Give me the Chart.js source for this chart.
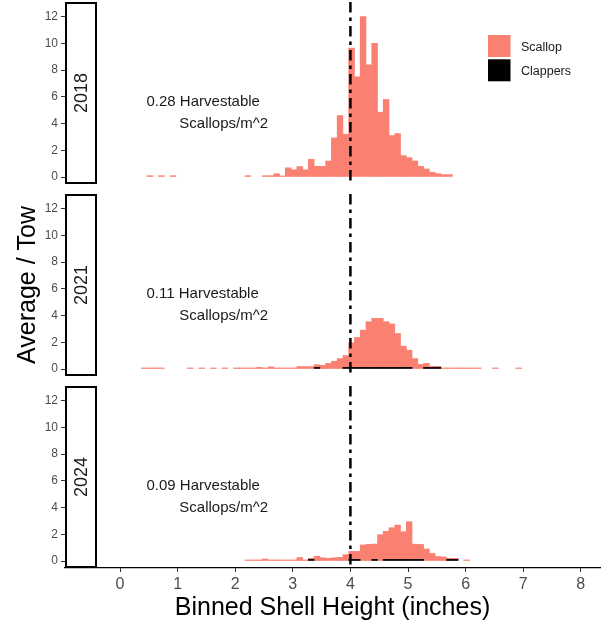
<!DOCTYPE html>
<html>
<head>
<meta charset="utf-8">
<script src="https://cdn.jsdelivr.net/npm/chart.js@4.4.0/dist/chart.umd.min.js"></script>
<style>
  html, body { margin: 0; padding: 0; background: #fff; }
  #wrap { position: relative; width: 602px; height: 627px; overflow: hidden; }
  canvas { position: absolute; left: 0; }
</style>
</head>
<body>
<div id="wrap">
  <canvas id="panel2018" width="602" height="190" style="top:0px"></canvas>
  <canvas id="panel2021" width="602" height="198" style="top:186px"></canvas>
  <canvas id="panel2024" width="602" height="249" style="top:378px"></canvas>
</div>
<script>
// shell height bins (inches, bin centres)
const binCenters = [
    0.02, 0.12, 0.22, 0.32, 0.42, 0.52, 0.62, 0.72, 0.82, 0.92,
    1.02, 1.12, 1.22, 1.32, 1.42, 1.52, 1.62, 1.72, 1.82, 1.92,
    2.02, 2.12, 2.22, 2.32, 2.42, 2.52, 2.62, 2.72, 2.82, 2.92,
    3.02, 3.12, 3.22, 3.32, 3.42, 3.52, 3.62, 3.72, 3.82, 3.92,
    4.02, 4.12, 4.22, 4.32, 4.42, 4.52, 4.62, 4.72, 4.82, 4.92,
    5.02, 5.12, 5.22, 5.32, 5.42, 5.52, 5.62, 5.72, 5.82, 5.92,
    6.02, 6.12, 6.22, 6.32, 6.42, 6.52, 6.62, 6.72, 6.82, 6.92
];

const years = ['2018', '2021', '2024'];
const harvestable = ['0.28', '0.11', '0.09'];
const seriesNames = ['Scallop', 'Clappers'];

const scallop2018 = [
    0, 0, 0, 0, 0, 0.1, 0, 0.1, 0, 0.1,
    0, 0, 0, 0, 0, 0, 0, 0, 0, 0,
    0, 0, 0.1, 0, 0, 0.1, 0.1, 0.24, 0.08, 0.69,
    0.54, 0.78, 0.54, 1.32, 0.8, 0.8, 1.2, 2.93, 4.6, 3.2,
    9.65, 7.5, 12.0, 8.4, 10.0, 4.85, 5.8, 3.1, 3.25, 1.6,
    1.45, 1.2, 0.8, 0.6, 0.35, 0.25, 0.18, 0.18, 0, 0,
    0, 0, 0, 0, 0, 0, 0, 0, 0, 0
];
const clappers2018 = [
    0, 0, 0, 0, 0, 0, 0, 0, 0, 0,
    0, 0, 0, 0, 0, 0, 0, 0, 0, 0,
    0, 0, 0, 0, 0, 0, 0, 0, 0, 0,
    0, 0, 0, 0, 0, 0, 0, 0, 0, 0,
    0, 0, 0, 0, 0, 0, 0, 0, 0, 0,
    0, 0, 0, 0, 0, 0, 0, 0, 0, 0,
    0, 0, 0, 0, 0, 0, 0, 0, 0, 0
];

const scallop2021 = [
    0, 0, 0, 0, 0.08, 0.08, 0.08, 0.08, 0, 0,
    0, 0, 0.08, 0, 0.08, 0, 0.08, 0, 0.08, 0,
    0.08, 0.08, 0.08, 0.08, 0.12, 0.08, 0.16, 0.08, 0.08, 0.08,
    0.08, 0.18, 0.18, 0.18, 0.2, 0.27, 0.42, 0.58, 0.78, 0.88,
    1.84, 2.24, 2.79, 3.42, 3.67, 3.67, 3.42, 3.25, 2.54, 1.59,
    1.29, 0.78, 0.35, 0.3, 0.08, 0.08, 0.08, 0.08, 0.08, 0.08,
    0.08, 0.08, 0.08, 0, 0, 0.08, 0, 0, 0, 0.08
];
const clappers2021 = [
    0, 0, 0, 0, 0, 0, 0, 0, 0, 0,
    0, 0, 0, 0, 0, 0, 0, 0, 0, 0,
    0, 0, 0, 0, 0, 0, 0, 0, 0, 0,
    0, 0, 0, 0, 0.12, 0, 0, 0, 0, 0.12,
    0.12, 0.12, 0.12, 0.12, 0.12, 0.12, 0.12, 0.12, 0.12, 0.12,
    0.12, 0, 0, 0.12, 0.12, 0.12, 0, 0, 0, 0,
    0, 0, 0, 0, 0, 0, 0, 0, 0, 0
];

const scallop2024 = [
    0, 0, 0, 0, 0, 0, 0, 0, 0, 0,
    0, 0, 0, 0, 0, 0, 0, 0, 0, 0,
    0, 0, 0.08, 0.08, 0.08, 0.15, 0.08, 0.08, 0.08, 0.08,
    0.08, 0.26, 0.08, 0.08, 0.36, 0.24, 0.2, 0.24, 0.27, 0.48,
    0.6, 0.6, 1.2, 1.25, 1.15, 1.97, 2.1, 2.37, 2.57, 2.07,
    2.82, 1.14, 1.12, 0.9, 0.57, 0.34, 0.3, 0.08, 0.08, 0,
    0.08, 0, 0, 0, 0, 0, 0, 0, 0, 0
];
const clappers2024 = [
    0, 0, 0, 0, 0, 0, 0, 0, 0, 0,
    0, 0, 0, 0, 0, 0, 0, 0, 0, 0,
    0, 0, 0, 0, 0, 0, 0, 0, 0, 0,
    0, 0, 0, 0.12, 0, 0, 0, 0, 0, 0,
    0.12, 0.12, 0, 0, 0.12, 0, 0.12, 0.12, 0.12, 0.12,
    0.12, 0.12, 0.12, 0, 0, 0, 0, 0.12, 0.12, 0,
    0, 0, 0, 0, 0, 0, 0, 0, 0, 0
];

const xTicks = [0, 1, 2, 3, 4, 5, 6, 7, 8];
const yTicks = [0, 2, 4, 6, 8, 10, 12];
const harvestSize = 4;

const FONT = '"Liberation Sans", Arial, sans-serif';
const SCALLOP_COLOR = '#FA8072';
const CLAPPER_COLOR = '#000000';
const X_MIN = -0.955, X_MAX = 8.333;
const Y_MIN = -0.524, Y_MAX = 13.1;

function toPoints(values) {
    return binCenters.map((x, i) => ({ x: x, y: values[i] })).filter(p => p.y > 0);
}

// strip, cutoff line, annotation, legend and y title
const panelDecor = {
    id: 'panelDecor',
    afterDatasetsDraw(chart, args, opts) {
        const { ctx, chartArea: a, scales: { x, y } } = chart;
        ctx.save();

        const px = x.getPixelForValue(harvestSize);
        ctx.strokeStyle = '#000';
        ctx.lineWidth = 2.5;
        ctx.setLineDash([10.5, 5, 3.5, 5]);
        ctx.beginPath();
        ctx.moveTo(px, a.top);
        ctx.lineTo(px, a.bottom);
        ctx.stroke();
        ctx.setLineDash([]);

        ctx.fillStyle = '#1a1a1a';
        ctx.font = '15px ' + FONT;
        ctx.textAlign = 'left';
        ctx.textBaseline = 'alphabetic';
        ctx.fillText(opts.harvest + ' Harvestable', x.getPixelForValue(0.46), y.getPixelForValue(5.35));
        ctx.fillText('Scallops/m^2', x.getPixelForValue(1.03), y.getPixelForValue(3.65));

        // facet strip on the left
        ctx.fillStyle = '#fff';
        ctx.strokeStyle = '#000';
        ctx.lineWidth = 2;
        ctx.fillRect(a.left + 1, a.top + 1, 30, a.bottom - a.top - 2);
        ctx.strokeRect(a.left + 1, a.top + 1, 30, a.bottom - a.top - 2);
        ctx.save();
        ctx.translate(a.left + 17, (a.top + a.bottom) / 2);
        ctx.rotate(-Math.PI / 2);
        ctx.fillStyle = '#1a1a1a';
        ctx.font = '18px ' + FONT;
        ctx.textAlign = 'center';
        ctx.textBaseline = 'middle';
        ctx.fillText(opts.year, 0, 0);
        ctx.restore();

        if (opts.legend) {
            const colors = [SCALLOP_COLOR, CLAPPER_COLOR];
            ctx.font = '12.5px ' + FONT;
            ctx.textAlign = 'left';
            ctx.textBaseline = 'middle';
            seriesNames.forEach((name, i) => {
                const top = 35 + i * 24.3;
                ctx.fillStyle = colors[i];
                ctx.fillRect(488, top, 22.5, 22);
                ctx.fillStyle = '#1a1a1a';
                ctx.fillText(name, 521, top + 12.5);
            });
        }

        if (opts.yTitle) {
            ctx.save();
            ctx.translate(28, 99);
            ctx.rotate(-Math.PI / 2);
            ctx.fillStyle = '#000';
            ctx.font = '25px ' + FONT;
            ctx.textAlign = 'center';
            ctx.textBaseline = 'middle';
            ctx.fillText(opts.yTitle, 0, 0);
            ctx.restore();
        }
        ctx.restore();
    }
};

function createPanel(id, idx, scallop, clappers, padding, showX) {
    const ctx = document.getElementById(id).getContext('2d');
    const xScale = {
        type: 'linear',
        min: X_MIN,
        max: X_MAX,
        offset: false,
        stacked: true,
        display: showX,
        grid: { offset: false }
    };
    if (showX) {
        Object.assign(xScale, {
            afterBuildTicks: axis => { axis.ticks = xTicks.map(v => ({ value: v })); },
            afterFit: axis => { axis.height = 59; axis.paddingLeft = 0; axis.paddingRight = 0; },
            ticks: { font: { size: 16, family: FONT }, color: '#4d4d4d', padding: 3, autoSkip: false, maxRotation: 0 },
            grid: { offset: false, drawOnChartArea: false, tickLength: 4, tickColor: '#333', tickWidth: 1 },
            border: { display: true, color: '#000', width: 1.2 },
            title: {
                display: true,
                text: 'Binned Shell Height (inches)',
                font: { size: 25, family: FONT },
                color: '#000',
                padding: { top: 0, bottom: 4 }
            }
        });
    }
    new Chart(ctx, {
        type: 'bar',
        data: {
            datasets: [{
                label: seriesNames[1],
                data: toPoints(clappers),
                backgroundColor: CLAPPER_COLOR,
                borderWidth: 0,
                barPercentage: 1,
                categoryPercentage: 1
            }, {
                label: seriesNames[0],
                data: toPoints(scallop),
                backgroundColor: SCALLOP_COLOR,
                borderWidth: 0,
                barPercentage: 1,
                categoryPercentage: 1
            }]
        },
        options: {
            responsive: false,
            animation: false,
            layout: { padding: padding },
            scales: {
                x: xScale,
                y: {
                    type: 'linear',
                    min: Y_MIN,
                    max: Y_MAX,
                    stacked: true,
                    afterBuildTicks: axis => { axis.ticks = yTicks.map(v => ({ value: v })); },
                    afterFit: axis => { axis.width = 65; axis.paddingTop = 0; axis.paddingBottom = 0; },
                    ticks: { font: { size: 12, family: FONT }, color: '#4d4d4d', padding: 3, autoSkip: false },
                    grid: { drawOnChartArea: false, tickLength: 4, tickColor: '#333', tickWidth: 1 },
                    border: { display: false }
                }
            },
            plugins: {
                legend: { display: false },
                tooltip: { enabled: false },
                panelDecor: {
                    year: years[idx],
                    harvest: harvestable[idx],
                    legend: idx === 0,
                    yTitle: idx === 1 ? 'Average / Tow' : null
                }
            }
        },
        plugins: [panelDecor]
    });
}

createPanel('panel2018', 0, scallop2018, clappers2018, { top: 2, bottom: 6, left: 0, right: 2 }, false);
createPanel('panel2021', 1, scallop2021, clappers2021, { top: 8, bottom: 8, left: 0, right: 2 }, false);
createPanel('panel2024', 2, scallop2024, clappers2024, { top: 8, bottom: 0, left: 0, right: 2 }, true);
</script>
</body>
</html>
